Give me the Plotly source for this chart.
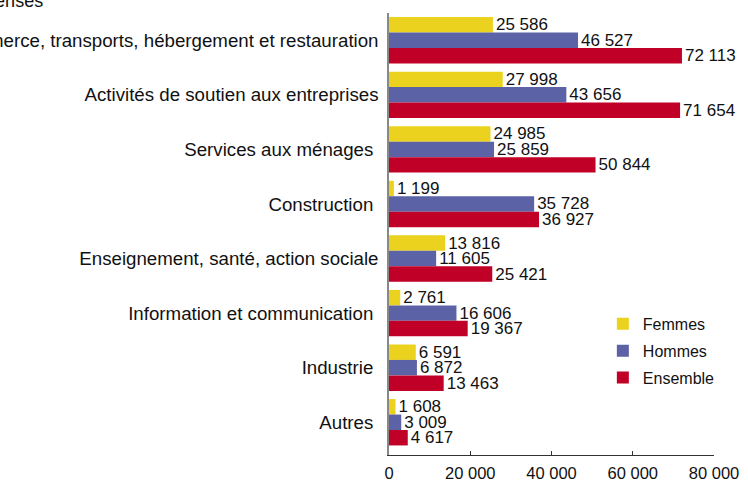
import plotly.graph_objects as go

categories = [
    "Commerce, transports, hébergement et restauration",
    "Activités de soutien aux entreprises",
    "Services aux ménages\u00a0",
    "Construction\u00a0",
    "Enseignement, santé, action sociale",
    "Information et communication\u00a0",
    "Industrie\u00a0",
    "Autres\u00a0",
]
femmes = [25586, 27998, 24985, 1199, 13816, 2761, 6591, 1608]
hommes = [46527, 43656, 25859, 35728, 11605, 16606, 6872, 3009]
ensemble = [72113, 71654, 50844, 36927, 25421, 19367, 13463, 4617]
x_ticks = [0, 20000, 40000, 60000, 80000]
x_ticklabels = ["0", "20 000", "40 000", "60 000", "80 000"]
title_text = "En nombre de dépenses"

def fmt(v):
    return f"{v:,}".replace(",", " ")

series = [
    ("Femmes", femmes, "#EBD21F"),
    ("Hommes", hommes, "#5B62A6"),
    ("Ensemble", ensemble, "#C10027"),
]

fig = go.Figure()
for name, vals, color in series:
    fig.add_trace(go.Bar(
        y=categories, x=vals, name=name, orientation="h", legendgroup=name,
        marker=dict(color=color, line=dict(width=0)),
        text=[fmt(v) for v in vals], textposition="outside",
        textfont=dict(family="Liberation Sans, Arial", size=17, color="#111111"),
        constraintext="none", cliponaxis=False,
    ))

fig.update_layout(
    width=748, height=480,
    margin=dict(l=389, r=34, t=13, b=25, autoexpand=False),
    paper_bgcolor="white", plot_bgcolor="white",
    barmode="group", bargap=0.15, bargroupgap=0,
    font=dict(family="Liberation Sans, Arial", size=16, color="#111111"),
    showlegend=True,
    legend=dict(x=0.658, y=0.335, xanchor="left", yanchor="top",
                bgcolor="rgba(0,0,0,0)", traceorder="grouped",
                font=dict(size=16), tracegroupgap=3),
    xaxis=dict(range=[0, 80000], tickvals=x_ticks, ticktext=x_ticklabels,
               showgrid=False, zeroline=False, showline=True, automargin=False,
               linecolor="#333333", linewidth=1, ticks="inside", ticklen=4,
               tickcolor="#333333", tickfont=dict(size=16.5), ticklabelstandoff=3),
    yaxis=dict(categoryorder="array", categoryarray=categories, automargin=False,
               range=[7.6, -0.5], showgrid=False, zeroline=False,
               showline=True, linecolor="#888888", linewidth=1.5,
               ticks="", ticklabelstandoff=5, tickfont=dict(size=18.7)),
    annotations=[dict(text=title_text, xref="paper", yref="paper",
                      x=(45 - 389) / 325, y=1.0, xanchor="right", yanchor="bottom",
                      showarrow=False, font=dict(size=18, color="#111111"))],
)

fig.write_html("out.html", config={"displayModeBar": False},
               post_script="document.body.style.margin='0';")
